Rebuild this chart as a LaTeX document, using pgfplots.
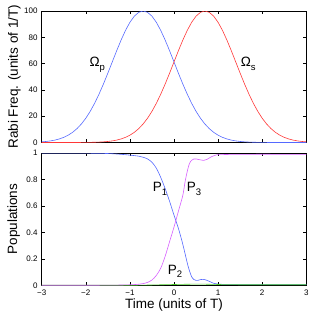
\documentclass[border=0pt]{standalone}
\usepackage{fontspec}
\setmainfont{Liberation Sans}
\usepackage{pgfplots}
\pgfplotsset{compat=1.18}
\definecolor{cP}{RGB}{85,105,255}
\definecolor{cS}{RGB}{255,55,55}
\definecolor{cM}{RGB}{215,95,255}
\definecolor{cG}{RGB}{70,200,40}
\newcommand{\lab}{\fontsize{13.5}{16}\selectfont}
\newcommand{\sub}[1]{\raisebox{-3.6pt}{\fontsize{9.5}{10}\selectfont #1}}
\begin{document}
\begin{tikzpicture}
\path[use as bounding box] (0,0) rectangle (313pt,317pt);
\pgfplotsset{every axis/.append style={
  scale only axis, width=264.6pt, xmin=-3, xmax=3,
  axis line style={line width=0.5pt}, every tick/.style={black, line width=0.4pt},
  major tick length=3pt, tick align=inside,
  /pgf/number format/assume math mode=true,
  tick label style={font=\fontsize{8}{9}\selectfont, inner sep=0pt},
  yticklabel shift={4pt}, xticklabel shift={4pt},
  xtick={-3,-2,-1,0,1,2,3},
  label style={font=\lab},
}}
\begin{axis}[name=top, at={(41.7pt,174.5pt)}, anchor=south west, height=131.5pt,
  ymin=0, ymax=100, ytick={0,20,40,60,80,100}, xticklabels={},
  ylabel={Rabi Freq. (units of 1/T)},
  ylabel style={at={(rel axis cs:-0.0896,0.5)}, anchor=base, rotate=0, inner sep=0pt}]
\addplot[cP, line width=0.6pt] coordinates {
(-3.0,0.50)(-2.9,0.79)(-2.8,1.22)(-2.7,1.83)(-2.6,2.71)(-2.5,3.92)(-2.4,5.56)(-2.3,7.73)(-2.2,10.54)(-2.1,14.09)
(-2.0,18.45)(-1.9,23.69)(-1.8,29.82)(-1.7,36.79)(-1.6,44.49)(-1.5,52.73)(-1.4,61.26)(-1.3,69.77)(-1.2,77.88)(-1.1,85.21)
(-1.0,91.39)(-0.9,96.08)(-0.8,99.00)(-0.7,100)(-0.6,99.00)(-0.5,96.08)(-0.4,91.39)(-0.3,85.21)(-0.2,77.88)(-0.1,69.77)
(0.0,61.26)(0.1,52.73)(0.2,44.49)(0.3,36.79)(0.4,29.82)(0.5,23.69)(0.6,18.45)(0.7,14.09)(0.8,10.54)(0.9,7.73)
(1.0,5.56)(1.1,3.92)(1.2,2.71)(1.3,1.83)(1.4,1.22)(1.5,0.79)(1.6,0.50)(1.7,0.32)(1.8,0.19)(1.9,0.12)
(2.0,0.07)(2.1,0.04)(2.2,0.02)(2.3,0.01)(2.4,0)(3.0,0)};
\addplot[cS, line width=0.6pt] coordinates {
(-3.0,0)(-2.4,0)(-2.3,0.01)(-2.2,0.02)(-2.1,0.04)(-2.0,0.07)(-1.9,0.12)(-1.8,0.19)(-1.7,0.32)(-1.6,0.50)
(-1.5,0.79)(-1.4,1.22)(-1.3,1.83)(-1.2,2.71)(-1.1,3.92)(-1.0,5.56)(-0.9,7.73)(-0.8,10.54)(-0.7,14.09)(-0.6,18.45)
(-0.5,23.69)(-0.4,29.82)(-0.3,36.79)(-0.2,44.49)(-0.1,52.73)(0.0,61.26)(0.1,69.77)(0.2,77.88)(0.3,85.21)(0.4,91.39)
(0.5,96.08)(0.6,99.00)(0.7,100)(0.8,99.00)(0.9,96.08)(1.0,91.39)(1.1,85.21)(1.2,77.88)(1.3,69.77)(1.4,61.26)
(1.5,52.73)(1.6,44.49)(1.7,36.79)(1.8,29.82)(1.9,23.69)(2.0,18.45)(2.1,14.09)(2.2,10.54)(2.3,7.73)(2.4,5.56)
(2.5,3.92)(2.6,2.71)(2.7,1.83)(2.8,1.22)(2.9,0.79)(3.0,0.50)};
\node[anchor=base west, inner sep=0pt, font=\lab] at (axis cs:-1.92,57.6) {Ω\sub{p}};
\node[anchor=base west, inner sep=0pt, font=\lab] at (axis cs:1.51,57.6) {Ω\sub{s}};
\end{axis}
\begin{axis}[name=bot, at={(41.7pt,31.7pt)}, anchor=south west, height=132.3pt,
  ymin=0, ymax=1, ytick={0,0.2,0.4,0.6,0.8,1},
  xticklabels={−3,−2,−1,0,1,2,3},
  xlabel={Time (units of T)},
  xlabel style={at={(rel axis cs:0.5,-0.1738)}, anchor=base, inner sep=0pt},
  ylabel={Populations},
  ylabel style={at={(rel axis cs:-0.093,0.5)}, anchor=base, rotate=0, inner sep=0pt}]
\addplot[cP, line width=0.6pt, smooth] coordinates {
(-3.0,1.000)(-2.5,1.000)(-2.0,0.999)(-1.5,0.996)(-1.2,0.990)(-1.0,0.984)(-0.8,0.976)(-0.7,0.968)(-0.6,0.955)
(-0.5,0.930)(-0.4,0.885)(-0.3,0.815)(-0.2,0.730)(-0.1,0.635)(0.0,0.530)(0.1,0.430)(0.2,0.310)(0.3,0.170)
(0.35,0.110)(0.4,0.065)(0.45,0.044)(0.5,0.037)(0.55,0.038)(0.6,0.043)(0.65,0.045)(0.7,0.043)(0.8,0.030)
(0.9,0.015)(1.0,0.009)(1.2,0.007)(2.0,0.007)(3.0,0.007)};
\addplot[cG, line width=0.6pt, smooth] coordinates {
(-3.0,0)(-1.0,0.0005)(-0.6,0.002)(-0.3,0.004)(0.0,0.006)(0.3,0.008)(0.6,0.009)(0.9,0.007)(1.2,0.005)(2.0,0.004)(3.0,0.004)};
\addplot[cM, line width=0.6pt, smooth] coordinates {
(-3.0,0)(-1.5,0.001)(-1.0,0.004)(-0.8,0.008)(-0.7,0.013)(-0.6,0.022)(-0.5,0.040)(-0.4,0.075)(-0.3,0.130)
(-0.2,0.220)(-0.1,0.330)(0.0,0.440)(0.1,0.560)(0.2,0.680)(0.25,0.780)(0.3,0.860)(0.35,0.920)(0.4,0.945)
(0.45,0.955)(0.5,0.955)(0.6,0.948)(0.67,0.944)(0.75,0.952)(0.85,0.972)(0.95,0.984)(1.0,0.987)(1.5,0.990)(3.0,0.990)};
\node[anchor=base west, inner sep=0pt, font=\lab] at (axis cs:-0.483,0.7075) {P\sub{1}};
\node[anchor=base west, inner sep=0pt, font=\lab] at (axis cs:0.288,0.7075) {P\sub{3}};
\node[anchor=base west, inner sep=0pt, font=\lab] at (axis cs:-0.143,0.083) {P\sub{2}};
\end{axis}
\end{tikzpicture}
\end{document}
